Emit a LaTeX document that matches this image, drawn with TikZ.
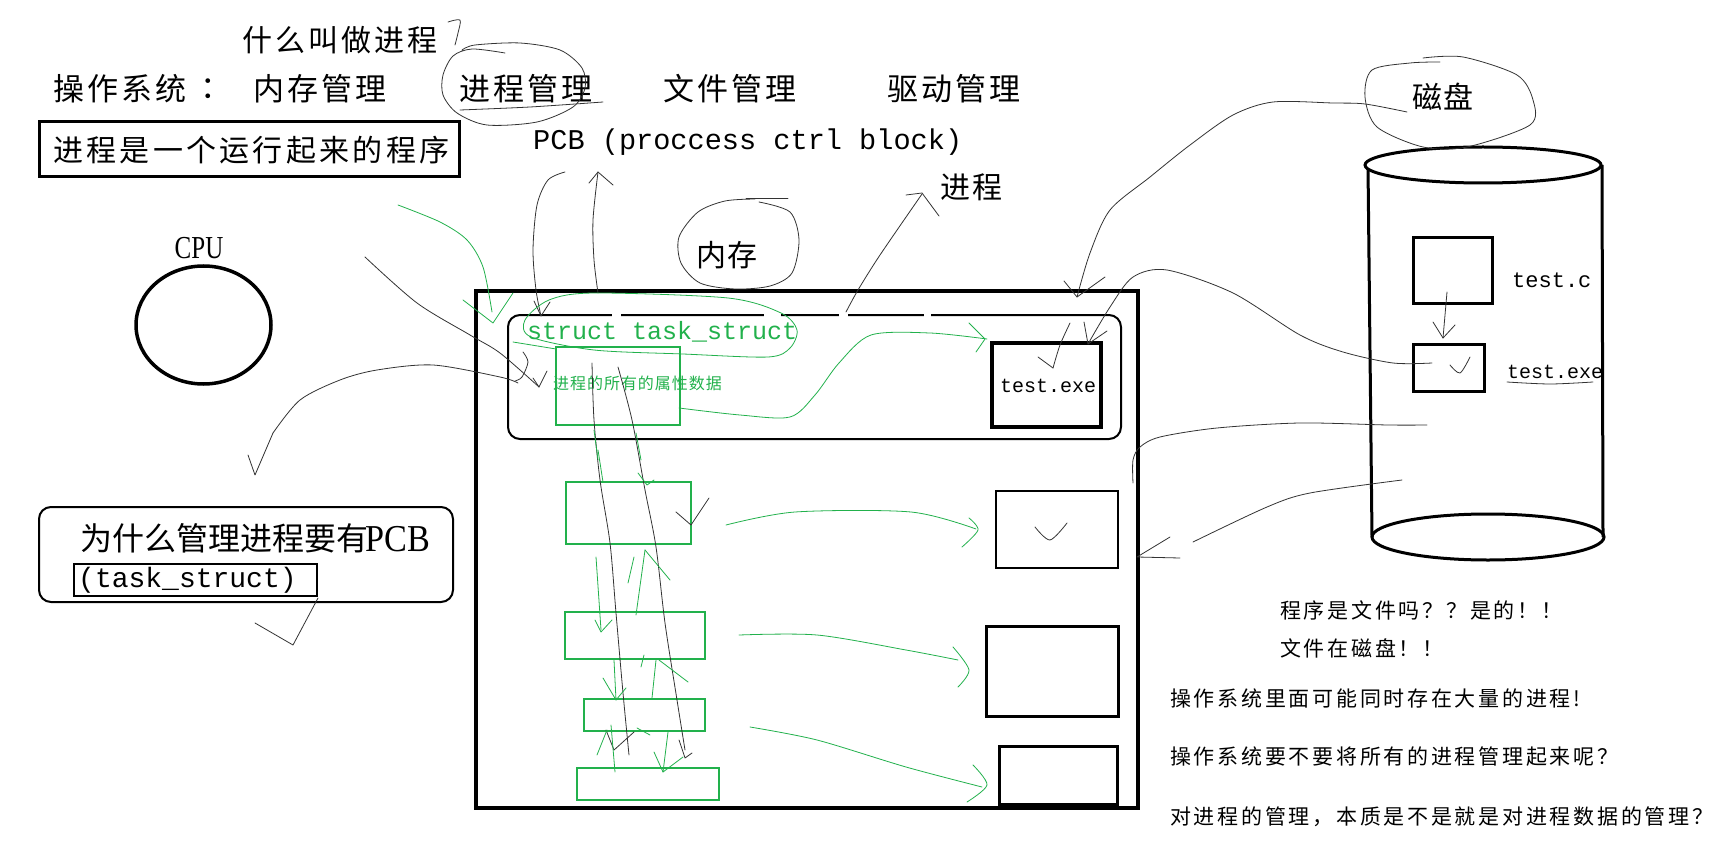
\documentclass[tikz,border=0pt]{standalone}
\usepackage{fontspec}
\setmainfont{Noto Sans CJK SC}
\newfontfamily\mono{Liberation Mono}
\newfontfamily\ser{Liberation Serif}
\definecolor{pg}{RGB}{34,177,76}
\newcommand\zh[3]{\fontsize{#1}{#1}\selectfont\addfontfeatures{LetterSpace=#2}#3}
\newcommand\mo[2]{\mono\fontsize{#1}{#1}\selectfont #2}
\begin{document}
\begin{tikzpicture}[x=1pt,y=-1pt,
  txt/.style={inner sep=0pt, anchor=west},
  hand/.style={draw=black!80, line width=0.8pt, line cap=round, line join=round},
  ghand/.style={draw=pg, line width=0.8pt, line cap=round, line join=round},
  boldbox/.style={draw=black, line width=3pt},
  gbox/.style={draw=pg, line width=2pt},
]
\fill[white] (0,0) rectangle (1731,850);
\useasboundingbox (0,0) rectangle (1731,850);

% ---------- top texts ----------
\node[txt] (q) at (242,40) {\zh{30}{10}{什么叫做进程}};
\node[txt] (os) at (53,89) {\zh{31}{10}{操作系统}};
\node[txt] (colon) at (200,89) {\zh{31}{0}{：}};
\node[txt] (mem) at (253,89) {\zh{31}{10}{内存管理}};
\node[txt] (proc) at (459,89) {\zh{31}{10}{进程管理}};
\node[txt] (file) at (663,89) {\zh{31}{10}{文件管理}};
\node[txt] (drv) at (887,89) {\zh{31}{10}{驱动管理}};

\draw[boldbox] (39,122) rectangle (459,177);
\node[txt] (def) at (53,150) {\zh{30}{11}{进程是一个运行起来的程序}};

\node[txt] (pcb) at (533,142) {\mo{28.6}{PCB (proccess ctrl block)}};
\node[txt] (jc) at (940,187) {\zh{30}{8}{进程}};

% ---------- CPU ----------
\node[inner sep=0pt, xscale=0.78] (cpul) at (199,248) {\ser\fontsize{32}{32}\selectfont CPU};
\draw[line width=3.5pt] (203.5,325) ellipse [x radius=67.5pt, y radius=59pt];

% ---------- memory ----------
\node[txt] (nc) at (696,255) {\zh{30}{5}{内存}};
\draw[line width=4pt] (476,291) rectangle (1138,808);
\draw[line width=2pt, rounded corners=12pt] (508,315) rectangle (1121,439);
\foreach \a/\b in {612/621,764/781,839/848,924/931}
  \draw[white, line width=4pt] (\a,315) -- (\b,315);

\node[txt, text=pg] (ts) at (527,332) {\mo{25}{struct task\_struct}};
\draw[pg, line width=2.5pt] (556,347) rectangle (680,425);
\node[txt, text=pg] (attr) at (553,383) {\zh{16}{6}{进程的所有的属性数据}};
\draw[line width=3.5pt] (992,343) rectangle (1101,427);
\node[txt] (exe1) at (1000,386) {\mo{20}{test.exe}};

\draw[gbox] (566,482) rectangle (691,544);
\draw[gbox] (565,612) rectangle (705,659);
\draw[gbox] (584,699) rectangle (705,731);
\draw[gbox] (577,768) rectangle (719,800);
\draw[line width=2.5pt] (996,491) rectangle (1118,568);
\draw[line width=3pt] (986,626) rectangle (1118,716);
\draw[line width=3pt] (999,746) rectangle (1117,804);

% ---------- disk ----------
\node[txt] (disk) at (1412,97) {\zh{30}{5}{磁盘}};
\draw[line width=3pt] (1368,167) -- (1372,537);
\draw[line width=3pt] (1602,165) -- (1603,537);
\draw[line width=3pt, fill=white] (1483,165) ellipse [x radius=118pt, y radius=18pt];
\draw[line width=3pt] (1488,537) ellipse [x radius=116pt, y radius=23pt];
\draw[line width=3pt] (1413,238) rectangle (1492,303);
\draw[line width=3pt] (1413,344) rectangle (1484,391);
\node[txt] (tc) at (1512,280) {\mo{22}{test.c}};
\node[txt] (exe2) at (1507,372) {\mo{20}{test.exe}};

% ---------- left bottom box ----------
\draw[line width=2pt, rounded corners=12pt] (39,507) rectangle (453,602);
\node[inner sep=0pt, anchor=base west] (why) at (80,550) {\zh{32}{0}{为什么管理进程要有}};
\node[inner sep=0pt, anchor=base west, xscale=0.9] (whyp) at (365,551) {\ser\fontsize{38}{38}\selectfont PCB};
\draw[line width=2pt] (74,564) rectangle (317,596);
\node[txt] (tsk) at (78,580) {\mo{28}{(task\_struct)}};

% ---------- right bottom texts ----------
\node[txt] (r1) at (1280,610) {\zh{21}{13}{程序是文件吗？？是的！！}};
\node[txt] (r2) at (1280,648) {\zh{21}{13}{文件在磁盘！！}};
\node[txt] (r3) at (1170,698) {\zh{21}{13}{操作系统里面可能同时存在大量的进程!}};
\node[txt] (r4) at (1170,757) {\zh{21}{13}{操作系统要不要将所有的进程管理起来呢？}};
\node[txt] (r5) at (1170,817) {\zh{21}{13}{对进程的管理，本质是不是就是对进程数据的管理？}};

% ---------- black hand strokes ----------
\draw[hand] plot[smooth] coordinates {(448,22) (460,20) (458,33) (455,45)};
\draw[hand] plot[smooth] coordinates {(505,53) (472,49) (453,56) (443,75) (443,95) (457,113) (487,125) (537,122) (573,107) (585,88) (582,68) (560,50) (520,43) (475,45) (462,50)};
\draw[hand] plot[smooth] coordinates {(460,110) (530,107) (603,102)};

\draw[hand] plot[smooth] coordinates {(565,172) (548,180) (537,205) (533,250) (536,290) (541,316)};
\draw[hand] (534,301) -- (541,316) -- (550,302);
\draw[hand] plot[smooth] coordinates {(598,293) (594,260) (593,220) (598,172)};
\draw[hand] (589,183) -- (598,172) -- (613,185);

\draw[hand] (746,198) -- (788,198);
\draw[hand] plot[smooth] coordinates {(759,202) (790,212) (799,240) (792,273) (770,286) (735,289) (700,283) (681,263) (679,237) (698,212) (725,201) (755,199)};

\draw[hand] plot[smooth] coordinates {(846,312) (858,290) (880,255) (922,194)};
\draw[hand] (906,195) -- (922,193) -- (939,216);

\draw[hand] plot[smooth] coordinates {(1440,62) (1410,63) (1372,70) (1365,97) (1377,127) (1423,147) (1467,147) (1530,125) (1533,100) (1517,75) (1463,57) (1423,58)};
\draw[hand] plot[smooth] coordinates {(1407,112) (1365,104) (1333,103) (1273,102) (1233,115) (1190,145) (1150,177) (1110,210) (1090,253) (1077,297)};
\draw[hand] (1064,281) -- (1077,297) -- (1105,277);
\draw[hand] plot[smooth] coordinates {(1070,323) (1060,345) (1053,368)};
\draw[hand] (1038,357) -- (1053,368);

\draw[hand] plot[smooth] coordinates {(1432,363) (1393,363) (1343,352) (1300,335) (1233,293) (1167,270) (1133,277) (1110,307) (1088,344)};
\draw[hand] (1084,322) -- (1088,344) -- (1107,331);
\draw[hand] plot[smooth] coordinates {(1427,425) (1388,425) (1300,423) (1217,428) (1160,437) (1140,447) (1133,460) (1133,483)};
\draw[hand] plot[smooth] coordinates {(1402,480) (1310,493) (1267,507) (1193,542)};
\draw[hand] (1170,537) -- (1137,557) -- (1180,558);

\draw[hand] plot[smooth] coordinates {(1447,292) (1445,315) (1443,338)};
\draw[hand] (1433,322) -- (1443,338) -- (1455,325);
\draw[hand] plot[smooth] coordinates {(1450,365) (1460,373) (1470,357)};
\draw[hand] plot[smooth] coordinates {(1507,382) (1550,384) (1593,382)};
\draw[hand] plot[smooth] coordinates {(1035,527) (1050,540) (1067,523)};

\draw[hand] plot[smooth] coordinates {(365,257) (417,303) (470,335) (500,353) (539,387)};
\draw[hand] (533,378) -- (539,387) -- (547,371);
\draw[hand] (248,455) -- (255,475) -- (273,433);
\draw[hand] plot[smooth] coordinates {(273,433) (300,400) (340,380) (377,370) (433,365) (500,377) (518,383)};
\draw[hand] plot[smooth] coordinates {(523,352) (528,362) (522,377) (515,381)};

\draw[hand] plot[smooth] coordinates {(592,363) (594,420) (600,480) (610,543) (616,613) (623,693) (629,755)};
\draw[hand] (606,730) -- (614,750) -- (634,732);
\draw[hand] plot[smooth] coordinates {(618,367) (632,420) (645,490) (656,547) (665,623) (677,700) (685,750)};
\draw[hand] (679,740) -- (685,758) -- (692,753);
\draw[hand] (676,512) -- (691,525) -- (709,498);
\draw[hand] (318,598) -- (293,645) -- (255,623);

% ---------- green hand strokes ----------
\draw[ghand] plot[smooth] coordinates {(398,205) (440,222) (467,240) (483,267) (492,312)};
\draw[ghand] (463,300) -- (493,323) -- (513,293);
\draw[ghand] plot[smooth cycle] coordinates {(594,293) (728,298) (781,313) (797,330) (790,348) (768,357) (683,354) (594,350) (531,337) (525,320) (549,300)};
\draw[ghand] (513,342) -- (556,349);
\draw[ghand] plot[smooth] coordinates {(679,408) (740,415) (790,417) (815,395) (839,363) (871,335) (930,333) (987,339)};
\draw[ghand] (969,323) -- (985,339) -- (976,352);
\draw[ghand] plot[smooth] coordinates {(726,525) (795,512) (911,512) (976,529)};
\draw[ghand] plot[smooth] coordinates {(969,518) (978,530) (962,547)};
\draw[ghand] plot[smooth] coordinates {(739,635) (817,635) (906,650) (958,660)};
\draw[ghand] plot[smooth] coordinates {(953,647) (969,670) (958,687)};
\draw[ghand] plot[smooth] coordinates {(750,727) (817,740) (906,767) (982,787)};
\draw[ghand] plot[smooth] coordinates {(973,765) (987,785) (967,802)};

\draw[ghand] (594,430) -- (598,460);
\draw[ghand] (636,433) -- (641,460);
\draw[ghand] (598,450) -- (603,482);
\draw[ghand] (638,473) -- (647,485) -- (654,480);
\draw[ghand] (596,557) -- (601,630);
\draw[ghand] (595,620) -- (601,632) -- (612,620);
\draw[ghand] (634,557) -- (628,583);
\draw[ghand] (645,550) -- (636,615);
\draw[ghand] (645,550) -- (670,580);
\draw[ghand] (614,660) -- (616,700);
\draw[ghand] (603,678) -- (616,700) -- (626,688);
\draw[ghand] (656,660) -- (652,698);
\draw[ghand] (641,667) -- (644,655);
\draw[ghand] (659,660) -- (688,682);
\draw[ghand] (611,725) -- (615,772);
\draw[ghand] (597,755) -- (607,730);
\draw[ghand] (668,732) -- (663,772);
\draw[ghand] (654,752) -- (663,772) -- (683,757);
\draw[ghand] (637,728) -- (650,735);
\end{tikzpicture}
\end{document}
